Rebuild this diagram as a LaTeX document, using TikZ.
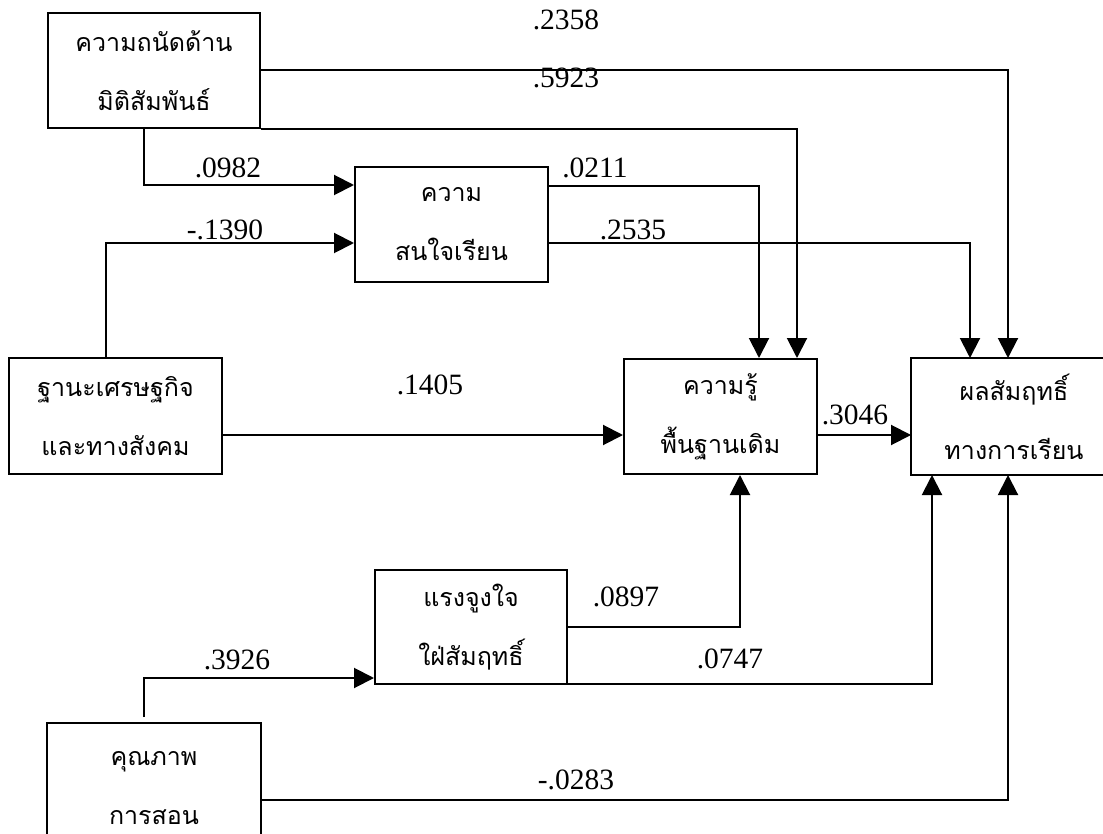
\documentclass[tikz,border=0pt]{standalone}
\usepackage{fontspec}
\setmainfont{Liberation Serif}
\newfontfamily\thai[Script=Thai]{Loma}
\usetikzlibrary{arrows.meta}
\tikzset{
  box/.style={draw, line width=2pt, inner sep=0pt, align=center,
    font=\thai\fontsize{25}{59}\selectfont},
  openbox/.style={box, draw=none},
  edge/.style={line width=2pt},
  arr/.style={line width=2pt, -{Triangle[length=20pt,width=20pt]}},
  lbl/.style={inner sep=0pt, font=\fontsize{29.5}{34}\selectfont},
}
\begin{document}
\begin{tikzpicture}[x=1pt,y=-1pt]
\clip (0,0) rectangle (1103,834);
\fill[white] (0,0) rectangle (1103,834);
% boxes
\node[box, minimum width=212pt, minimum height=115pt] (apt) at (154,70.5) {ความถนัดด้าน\\มิติสัมพันธ์};
\node[box, minimum width=193pt, minimum height=115pt] (int) at (451.5,224.5) {ความ\\สนใจเรียน};
\node[box, minimum width=213pt, minimum height=116pt] (ses) at (115.5,416) {ฐานะเศรษฐกิจ\\และทางสังคม};
\node[box, minimum width=193pt, minimum height=115pt] (pk) at (720.5,416.5) {ความรู้\\พื้นฐานเดิม};
\node[openbox, minimum width=204pt, minimum height=115pt] (ach) at (1014,416.5) {ผลสัมฤทธิ์\\ทางการเรียน};
\draw[edge] (ach.north east) -- (ach.north west) -- (ach.south west) -- (ach.south east);
\node[box, minimum width=192pt, minimum height=114pt] (mot) at (471,627) {แรงจูงใจ\\ใฝ่สัมฤทธิ์};
\node[openbox, minimum width=212pt, minimum height=128pt] (tq) at (154,788) {คุณภาพ\\การสอน};
\draw[edge] (tq.south west) -- (tq.north west) -- (tq.north east) -- (tq.south east);
% bend points
\coordinate (c1) at (1008,70.5);
\coordinate (c2) at (797,128);
\coordinate (c3) at (144,185);
\coordinate (c4) at (106,243);
\coordinate (c5) at (759,186);
\coordinate (c6) at (970,243);
\coordinate (c7) at (0,435);
\coordinate (c9) at (740,627);
\coordinate (c10) at (932,684);
\coordinate (c10s) at (548,684);
\coordinate (c11) at (144,678);
\coordinate (c11s) at (144,717);
\coordinate (c12) at (1008,800);
% connectors
\draw[arr] (apt.east) -| (c1 |- ach.north);
\draw[arr] (apt.south east) -| (c2 |- pk.north);
\draw[arr] (apt.south -| c3) |- (c3 -| int.west);
\draw[arr] (ses.north -| c4) |- (c4 -| int.west);
\draw[arr] (int.east |- c5) -| (c5 |- pk.north);
\draw[arr] (int.east |- c6) -| (c6 |- ach.north);
\draw[arr] (ses.east |- c7) -- (pk.west |- c7);
\draw[arr] (pk.east |- c7) -- (ach.west |- c7);
\draw[arr] (mot.east |- c9) -| (c9 |- pk.south);
\draw[arr] (c10s) -| (c10 |- ach.south);
\draw[arr] (c11s) |- (c11 -| mot.west);
\draw[arr] (tq.east |- c12) -| (c12 |- ach.south);
% labels
\node[lbl] (l1) at (566,20) {.2358};
\node[lbl] (l2) at (566,78) {.5923};
\node[lbl] (l3) at (228,168) {.0982};
\node[lbl] (l4) at (595,168) {.0211};
\node[lbl] (l5) at (225,230) {-.1390};
\node[lbl] (l6) at (633,230) {.2535};
\node[lbl] (l7) at (430,385) {.1405};
\node[lbl] (l8) at (855,415) {.3046};
\node[lbl] (l9) at (626,597) {.0897};
\node[lbl] (l10) at (730,659) {.0747};
\node[lbl] (l11) at (237,660) {.3926};
\node[lbl] (l12) at (576,780) {-.0283};
\end{tikzpicture}
\end{document}
